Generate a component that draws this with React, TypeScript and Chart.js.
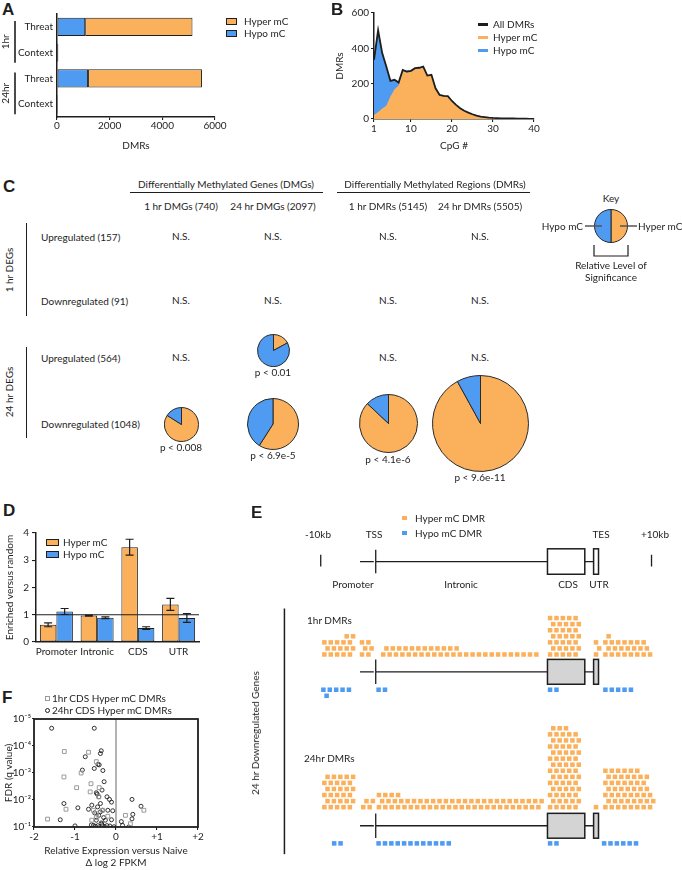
import React, { useEffect, useRef } from 'react';
import { Chart, registerables } from 'chart.js';

Chart.register(...registerables);

const FONT = 'Lato, "Open Sans", "DejaVu Sans", sans-serif';
const LETTER_FONT = '"Liberation Sans", Arial, sans-serif';
const INK = '#1e1e1e';
const ORANGE = '#FBB15C';
const BLUE = '#4E9BF1';
const CDS_GREY = '#d4d4d4';

Chart.defaults.font.family = FONT;
Chart.defaults.font.size = 10;
Chart.defaults.color = INK;

/* ---------------- Panel A data ---------------- */
const A_CATEGORIES = ['Threat', 'Context', 'Threat', 'Context'];
const A_GROUPS = ['1hr', '24hr'];
const A_HYPO = [1070, 12, 1180, 5];
const A_HYPER = [4075, 38, 4325, 12];
const A_TICKS = [0, 2000, 4000, 6000];

/* ---------------- Panel B data ---------------- */
const B_CPG = [1, 2, 3, 4, 5, 6, 7, 8, 9, 10, 11, 12, 13, 14, 15, 16, 17, 18, 19, 20, 21, 22, 23, 24, 25, 26, 27, 28, 29, 30, 31, 32, 33, 34, 35, 36, 37, 38, 39, 40];
const B_TOTAL = [335, 502, 373, 297, 216, 222, 206, 278, 269, 273, 288, 290, 297, 246, 250, 174, 136, 131, 129, 102, 80, 61, 47, 36, 27, 19, 13, 11, 8, 6, 5, 4, 4, 3, 3, 2, 2, 2, 1, 1];
const B_HYPER = [22, 40, 60, 75, 127, 169, 190, 270, 263, 268, 283, 285, 292, 242, 246, 171, 133, 128, 126, 100, 78, 59, 45, 34, 25, 18, 12, 10, 7, 5, 4, 3, 3, 2, 2, 2, 1, 1, 1, 1];
const B_X_TICKS = [1, 10, 20, 30, 40];
const B_Y_TICKS = [0, 200, 400, 600];

/* ---------------- Panel C data ---------------- */
const C_GROUP_HEADERS = ['Differentially Methylated Genes (DMGs)', 'Differentially Methylated Regions (DMRs)'];
const C_COLUMNS = ['1 hr DMGs (740)', '24 hr DMGs (2097)', '1 hr DMRs (5145)', '24 hr DMRs (5505)'];
const C_ROWS = ['Upregulated (157)', 'Downregulated (91)', 'Upregulated (564)', 'Downregulated (1048)'];
const C_ROW_GROUPS = ['1 hr DEGs', '24 hr DEGs'];
const C_PIE_ROW = [2, 3, 3, 3, 3];
const C_PIE_COL = [1, 0, 1, 2, 3];
const C_PIE_HYPER = [17, 84, 59, 87, 92];
const C_PIE_HYPO = [83, 16, 41, 13, 8];
const C_PIE_P = ['p < 0.01', 'p < 0.008', 'p < 6.9e-5', 'p < 4.1e-6', 'p < 9.6e-11'];
const C_KEY_SHARES = [50, 50];

/* ---------------- Panel D data ---------------- */
const D_REGIONS = ['Promoter', 'Intronic', 'CDS', 'UTR'];
const D_HYPER = [0.63, 0.97, 3.48, 1.38];
const D_HYPER_ERR = [0.07, 0.02, 0.29, 0.22];
const D_HYPO = [1.12, 0.89, 0.51, 0.88];
const D_HYPO_ERR = [0.11, 0.03, 0.05, 0.16];
const D_Y_TICKS = [0, 1, 2, 3, 4];

/* ---------------- Panel E data (DMR counts per bin, stacked) ---------------- */
const E_1H_HYPER_UP = [3, 3, 3, 4, 4];
const E_1H_HYPER_TSS = [3, 3];
const E_1H_HYPER_INTRON = [2, 2, 2, 2, 2, 2, 2, 2, 2, 2, 2, 2, 1, 1, 1, 1, 1, 1, 1, 1, 1, 1, 1, 1, 1];
const E_1H_HYPER_CDS = [7, 7, 7, 7, 7];
const E_1H_HYPER_UTR = [3];
const E_1H_HYPER_DOWN = [4, 3, 3, 3, 3, 3, 3, 1];
const E_1H_HYPO_UP = [2, 1, 1, 1, 1];
const E_1H_HYPO_INTRON = [1, 1];
const E_1H_HYPO_CDS = [1, 1];
const E_1H_HYPO_DOWN = [1, 1, 1, 1, 1];

const E_24H_HYPER_UP = [6, 6, 6, 6, 6];
const E_24H_HYPER_TSS = [2, 2];
const E_24H_HYPER_INTRON = [3, 3, 3, 3, 2, 2, 2, 2, 2, 2, 2, 2, 2, 2, 2, 2, 2, 2, 2, 2, 2, 2, 2, 2, 2, 2];
const E_24H_HYPER_CDS = [14, 14, 14, 13, 13];
const E_24H_HYPER_UTR = [1];
const E_24H_HYPER_DOWN = [7, 7, 7, 7, 7, 7, 6, 3];
const E_24H_HYPO_UP = [1, 1];
const E_24H_HYPO_INTRON = [1, 1, 1, 1, 1, 1, 1, 1, 1, 1, 1, 1];
const E_24H_HYPO_CDS = [1, 1];
const E_24H_HYPO_DOWN = [1, 1, 1, 1, 1, 1];

/* ---------------- Panel F data ---------------- */
const F_1H_FC = [-1.26, -0.67, -0.48, -1.27, -0.85, -0.96, -0.61, -0.63, -0.41, -1.22, -1.67, 0.23, 0.68, 0.35, -0.48, -0.33, -0.42, -0.20, -0.55, -0.47, -0.38, -0.59];
const F_1H_Q = [1.6e-4, 1.7e-4, 3.8e-4, 1.4e-3, 1.0e-3, 3.5e-3, 2.5e-3, 5.0e-3, 3.5e-3, 2.2e-2, 5.1e-2, 3.7e-2, 2.4e-2, 7.6e-2, 4.5e-2, 2.4e-2, 7.6e-3, 4.0e-2, 2.4e-2, 3.2e-2, 8.7e-2, 5.6e-2];
const F_24H_FC = [-1.57, -0.53, -0.38, -0.36, -0.75, -0.44, -0.41, -0.82, -0.53, -0.32, -0.29, -0.34, -0.48, -0.46, -0.42, -0.22, -0.16, -0.11, -1.27, -0.93, -0.67, -0.59, -0.38, -0.33, -0.52, -0.20, -0.08, 0.39, 0.61, 0.41, 0.39, -1.36, -1.00, -0.42, -0.30, -0.48, -0.36, -0.26, -0.11, -0.55, -0.44, -0.33, -0.22, 0.13, 0.16, 0.31, -0.38, -0.45, -0.50, -0.28, -0.15, -0.05, -0.60, -0.35];
const F_24H_Q = [2.2e-5, 2.2e-5, 1.9e-4, 1.5e-4, 2.5e-4, 4.8e-4, 5.0e-4, 7.8e-4, 6.8e-4, 8.1e-4, 2.1e-3, 4.3e-3, 5.4e-3, 6.0e-3, 7.6e-3, 7.6e-3, 9.5e-3, 1.2e-2, 1.35e-2, 1.95e-2, 2.2e-2, 1.55e-2, 1.35e-2, 2.4e-2, 3.0e-2, 2.4e-2, 2.5e-2, 9.5e-3, 1.7e-2, 3.4e-2, 5.0e-2, 5.4e-2, 9.1e-2, 3.7e-2, 4.5e-2, 5.6e-2, 7.1e-2, 5.6e-2, 5.4e-2, 8.7e-2, 8.9e-2, 8.7e-2, 8.9e-2, 6.3e-2, 8.7e-2, 1.0e-1, 2.75e-2, 1.8e-2, 9.5e-2, 9.7e-2, 9.2e-2, 9.8e-2, 8.3e-2, 7.8e-2];
const F_X_TICKS = [-2, -1, 0, 1, 2];
const F_Y_TICKS = [1e-5, 1e-4, 1e-3, 1e-2, 1e-1];

/* ---------------- layout (positions / sizes only) ---------------- */
const C_COL_X = [181, 273, 388, 480];
const C_ROW_Y = [237, 301, 358, 424];
const C_PIE_DIAM = [31, 33, 50, 57, 95];
const C_PIE_CY = [350, 424, 423.5, 423.5, 423];

const E_ROW = 6.2;
const E_X_MIN = -11.03;
const E_X_MAX = 55.43;
const E_GENE = { upTick: -0.57, promoter: 5.58, tss: 8.05, cdsStart: 34.97, cdsEnd: 40.82, utrStart: 42.2, utrEnd: 42.97, downTick: 51.28 };
const E_TRACKS = [
  {
    gene: 181.7, hyperBase: 164, hypoBase: 200,
    hyper: [[E_1H_HYPER_UP, 0], [E_1H_HYPER_TSS, 5.9], [E_1H_HYPER_INTRON, 9.23], [E_1H_HYPER_CDS, 35.38], [E_1H_HYPER_UTR, 42.58], [E_1H_HYPER_DOWN, 44.05]],
    hypo: [[E_1H_HYPO_UP, -0.15], [E_1H_HYPO_INTRON, 8.5], [E_1H_HYPO_CDS, 35.38], [E_1H_HYPO_DOWN, 44.05]],
  },
  {
    gene: 339, hyperBase: 320, hypoBase: 357,
    hyper: [[E_24H_HYPER_UP, 0], [E_24H_HYPER_TSS, 6.1], [E_24H_HYPER_INTRON, 8.55], [E_24H_HYPER_CDS, 35.38], [E_24H_HYPER_UTR, 42.58], [E_24H_HYPER_DOWN, 44.05]],
    hypo: [[E_24H_HYPO_UP, 1.54], [E_24H_HYPO_INTRON, 8.5], [E_24H_HYPO_CDS, 35.38], [E_24H_HYPO_DOWN, 43.85]],
  },
];

/* ---------------- helpers ---------------- */
const SUP: Record<string, string> = { '-': '\u207B', '0': '\u2070', '1': '\u00B9', '2': '\u00B2', '3': '\u00B3', '4': '\u2074', '5': '\u2075', '6': '\u2076', '7': '\u2077', '8': '\u2078', '9': '\u2079' };
const pow10Label = (v: number) => '10' + String(Math.round(Math.log10(v))).split('').map((c) => SUP[c] || c).join('');

const fixedTicks = (vals: number[]) => (s: any) => { s.ticks = vals.map((value) => ({ value })); };
const fitY = (w: number) => (s: any) => { s.width = w; s.paddingTop = 0; s.paddingBottom = 0; };
const fitX = (h: number) => (s: any) => { s.height = h; s.paddingLeft = 0; s.paddingRight = 0; };
const axisGrid = (len: number) => ({ display: true, drawOnChartArea: false, drawTicks: true, tickLength: len, color: INK, lineWidth: 1.1 });
const noGrid = { display: false, drawTicks: false, tickLength: 0 };
const axisBorder = { display: true, color: INK, width: 1.5 };
const quiet = { legend: { display: false }, tooltip: { enabled: false } };

function stackPoints(segments: any[], base: number, dir: number) {
  const pts: { x: number; y: number }[] = [];
  segments.forEach(([heights, start]) => {
    heights.forEach((h: number, i: number) => {
      for (let r = 0; r < h; r++) pts.push({ x: start + i + (r % 2 ? 0.5 : 0), y: base + dir * r * E_ROW });
    });
  });
  return pts;
}

/* ---------------- plugins ---------------- */
const aGroupPlugin = {
  id: 'aGroups',
  afterDraw(chart: any, _a: any, opts: any) {
    const { ctx } = chart;
    const y = chart.scales.y;
    opts.groups.forEach((g: string, gi: number) => {
      const top = y.getPixelForValue(gi * 2) - 6;
      const bottom = y.getPixelForValue(gi * 2 + 1) + 10;
      ctx.save();
      ctx.strokeStyle = INK;
      ctx.lineWidth = 1.6;
      ctx.beginPath();
      ctx.moveTo(15, top);
      ctx.lineTo(15, bottom);
      ctx.stroke();
      ctx.translate(6, (top + bottom) / 2);
      ctx.rotate(-Math.PI / 2);
      ctx.fillStyle = INK;
      ctx.font = `10px ${FONT}`;
      ctx.textAlign = 'center';
      ctx.textBaseline = 'middle';
      ctx.fillText(g, 0, 0);
      ctx.restore();
    });
  },
};

const errorBarPlugin = {
  id: 'errorBars',
  afterDatasetsDraw(chart: any, _a: any, opts: any) {
    const { ctx } = chart;
    const y = chart.scales.y;
    ctx.save();
    ctx.strokeStyle = INK;
    ctx.lineWidth = 1.2;
    chart.data.datasets.forEach((ds: any, di: number) => {
      const meta = chart.getDatasetMeta(di);
      meta.data.forEach((bar: any, i: number) => {
        const v = ds.data[i];
        const e = opts.errors[di][i];
        const yt = y.getPixelForValue(v + e);
        const yb = y.getPixelForValue(v - e);
        ctx.beginPath();
        ctx.moveTo(bar.x, yt); ctx.lineTo(bar.x, yb);
        ctx.moveTo(bar.x - 4, yt); ctx.lineTo(bar.x + 4, yt);
        ctx.moveTo(bar.x - 4, yb); ctx.lineTo(bar.x + 4, yb);
        ctx.stroke();
      });
    });
    ctx.restore();
  },
};

const refLinePlugin = {
  id: 'refLine',
  afterDatasetsDraw(chart: any, _a: any, opts: any) {
    const { ctx, chartArea: a } = chart;
    const py = chart.scales.y.getPixelForValue(opts.value);
    ctx.save();
    ctx.strokeStyle = INK;
    ctx.lineWidth = 1.2;
    ctx.beginPath();
    ctx.moveTo(a.left, py);
    ctx.lineTo(a.right, py);
    ctx.stroke();
    ctx.restore();
  },
};

const framePlugin = {
  id: 'frame',
  beforeDatasetsDraw(chart: any, _a: any, opts: any) {
    const { ctx, chartArea: a } = chart;
    const zx = chart.scales.x.getPixelForValue(opts.zero);
    ctx.save();
    ctx.strokeStyle = '#666';
    ctx.lineWidth = 1;
    ctx.beginPath();
    ctx.moveTo(zx, a.top);
    ctx.lineTo(zx, a.bottom);
    ctx.stroke();
    ctx.restore();
  },
  afterDatasetsDraw(chart: any) {
    const { ctx, chartArea: a } = chart;
    ctx.save();
    ctx.strokeStyle = INK;
    ctx.lineWidth = 1.8;
    ctx.strokeRect(a.left, a.top, a.right - a.left, a.bottom - a.top);
    ctx.restore();
  },
};

const keyPlugin = {
  id: 'keyMarks',
  afterDraw(chart: any) {
    const { ctx, chartArea: a } = chart;
    const cx = (a.left + a.right) / 2;
    const cy = (a.top + a.bottom) / 2;
    ctx.save();
    ctx.strokeStyle = '#555';
    ctx.lineWidth = 1.5;
    ctx.beginPath();
    ctx.moveTo(a.left - 9, cy); ctx.lineTo(cx - 9, cy);
    ctx.moveTo(cx + 9, cy); ctx.lineTo(a.right + 9, cy);
    ctx.stroke();
    ctx.strokeStyle = INK;
    ctx.lineWidth = 1.2;
    ctx.beginPath();
    ctx.moveTo(a.left, a.bottom + 2); ctx.lineTo(a.left, a.bottom + 13);
    ctx.lineTo(a.right, a.bottom + 13); ctx.lineTo(a.right, a.bottom + 2);
    ctx.stroke();
    ctx.restore();
  },
};

const genePlugin = {
  id: 'geneModel',
  beforeDatasetsDraw(chart: any, _a: any, opts: any) {
    const { ctx } = chart;
    const X = (v: number) => chart.scales.x.getPixelForValue(v);
    const Y = (v: number) => chart.scales.y.getPixelForValue(v);
    const g = opts.gene;
    ctx.save();
    ctx.strokeStyle = INK;
    opts.models.forEach((m: any) => {
      const c = m.center;
      ctx.lineWidth = 1.3;
      ctx.beginPath();
      ctx.moveTo(X(g.promoter), Y(c)); ctx.lineTo(X(g.tss - 0.3), Y(c));
      ctx.moveTo(X(g.tss), Y(c)); ctx.lineTo(X(g.cdsStart), Y(c));
      ctx.moveTo(X(g.cdsEnd), Y(c)); ctx.lineTo(X(g.utrStart), Y(c));
      ctx.moveTo(X(g.tss), Y(c - m.tssHalf)); ctx.lineTo(X(g.tss), Y(c + m.tssHalf));
      if (m.ends) {
        ctx.moveTo(X(g.upTick), Y(c - 7)); ctx.lineTo(X(g.upTick), Y(c + 5));
        ctx.moveTo(X(g.downTick), Y(c - 7)); ctx.lineTo(X(g.downTick), Y(c + 5));
      }
      ctx.stroke();
      ctx.fillStyle = m.fill;
      ctx.lineWidth = 1.5;
      [[g.cdsStart, g.cdsEnd], [g.utrStart, g.utrEnd]].forEach(([s, e]) => {
        const x0 = X(s), x1 = X(e), y0 = Y(c - m.boxHalf), y1 = Y(c + m.boxHalf);
        ctx.fillRect(x0, y0, x1 - x0, y1 - y0);
        ctx.strokeRect(x0, y0, x1 - x0, y1 - y0);
      });
    });
    const b = opts.bracket;
    ctx.lineWidth = 1.5;
    ctx.beginPath();
    ctx.moveTo(X(b.x), Y(b.from));
    ctx.lineTo(X(b.x), Y(b.to));
    ctx.stroke();
    ctx.restore();
  },
};

/* ---------------- chart configs ---------------- */
const makeA = () => ({
  type: 'bar',
  data: {
    labels: A_CATEGORIES,
    datasets: [
      { label: 'Hypo mC', data: A_HYPO, backgroundColor: BLUE, borderColor: INK, borderWidth: 1, borderSkipped: false, categoryPercentage: 1, barPercentage: 0.7 },
      { label: 'Hyper mC', data: A_HYPER, backgroundColor: ORANGE, borderColor: INK, borderWidth: 1, borderSkipped: false, categoryPercentage: 1, barPercentage: 0.7 },
    ],
  },
  options: {
    indexAxis: 'y', animation: false, responsive: false, events: [],
    layout: { padding: { top: 14, right: 17, bottom: 0, left: 0 } },
    plugins: { ...quiet, aGroups: { groups: A_GROUPS } },
    scales: {
      x: {
        type: 'linear', stacked: true, min: 0, max: 6000,
        afterBuildTicks: fixedTicks(A_TICKS),
        ticks: { callback: (v: number) => String(v), padding: 0, maxRotation: 0, color: INK },
        grid: axisGrid(3), border: axisBorder,
        title: { display: true, text: 'DMRs', color: INK, padding: { top: 2, bottom: 4 } },
        afterFit: fitX(39),
      },
      y: {
        type: 'category', stacked: true,
        grid: noGrid, border: axisBorder,
        ticks: { padding: 4, autoSkip: false, color: INK },
        afterFit: fitY(57),
      },
    },
  },
  plugins: [aGroupPlugin],
});

const xy = (xs: number[], ys: number[]) => xs.map((x, i) => ({ x, y: ys[i] }));

const makeB = () => ({
  type: 'line',
  data: {
    datasets: [
      { label: 'All DMRs', data: xy(B_CPG, B_TOTAL), borderColor: INK, borderWidth: 1.8, fill: false, pointRadius: 0, tension: 0 },
      { label: 'Hyper mC', data: xy(B_CPG, B_HYPER), borderColor: 'rgba(0,0,0,0)', borderWidth: 0, backgroundColor: ORANGE, fill: 'origin', pointRadius: 0, tension: 0 },
      { label: 'Hypo mC', data: xy(B_CPG, B_TOTAL), borderColor: 'rgba(0,0,0,0)', borderWidth: 0, backgroundColor: BLUE, fill: 'origin', pointRadius: 0, tension: 0 },
    ],
  },
  options: {
    animation: false, responsive: false, events: [],
    layout: { padding: { top: 13, right: 8, bottom: 0, left: 0 } },
    plugins: quiet,
    scales: {
      x: {
        type: 'linear', min: 1, max: 40,
        afterBuildTicks: fixedTicks(B_X_TICKS),
        ticks: { callback: (v: number) => String(v), padding: 1, maxRotation: 0, color: INK },
        grid: axisGrid(3), border: axisBorder,
        title: { display: true, text: 'CpG #', color: INK, padding: { top: 2, bottom: 4 } },
        afterFit: fitX(37),
      },
      y: {
        type: 'linear', min: 0, max: 600,
        afterBuildTicks: fixedTicks(B_Y_TICKS),
        ticks: { callback: (v: number) => String(v), padding: 2, color: INK },
        grid: axisGrid(3), border: axisBorder,
        title: { display: true, text: 'DMRs', color: INK, padding: { top: 4, bottom: 4 } },
        afterFit: fitY(44),
      },
    },
  },
});

const makeD = () => ({
  type: 'bar',
  data: {
    labels: D_REGIONS,
    datasets: [
      { label: 'Hyper mC', data: D_HYPER, backgroundColor: ORANGE, borderColor: INK, borderWidth: 1, borderSkipped: false, categoryPercentage: 0.81, barPercentage: 1 },
      { label: 'Hypo mC', data: D_HYPO, backgroundColor: BLUE, borderColor: INK, borderWidth: 1, borderSkipped: false, categoryPercentage: 0.81, barPercentage: 1 },
    ],
  },
  options: {
    animation: false, responsive: false, events: [],
    layout: { padding: { top: 33, right: 6, bottom: 0, left: 0 } },
    plugins: { ...quiet, errorBars: { errors: [D_HYPER_ERR, D_HYPO_ERR] }, refLine: { value: 1 } },
    scales: {
      x: {
        type: 'category',
        grid: noGrid, border: axisBorder,
        ticks: { padding: 4, maxRotation: 0, autoSkip: false, color: INK },
        afterFit: fitX(18),
      },
      y: {
        type: 'linear', min: 0, max: 4,
        afterBuildTicks: fixedTicks(D_Y_TICKS),
        ticks: { padding: 3, color: INK },
        grid: axisGrid(4), border: axisBorder,
        title: { display: true, text: 'Enriched versus random', color: INK, padding: { top: 4, bottom: 4 } },
        afterFit: fitY(36),
      },
    },
  },
  plugins: [errorBarPlugin, refLinePlugin],
});

const makeF = () => ({
  type: 'scatter',
  data: {
    datasets: [
      { label: '1hr CDS Hyper mC DMRs', data: xy(F_1H_FC, F_1H_Q), pointStyle: 'rect', pointRadius: 2.7, pointBorderColor: '#9a9a9a', pointBackgroundColor: 'rgba(255,255,255,0)', pointBorderWidth: 1 },
      { label: '24hr CDS Hyper mC DMRs', data: xy(F_24H_FC, F_24H_Q), pointStyle: 'circle', pointRadius: 2, pointBorderColor: INK, pointBackgroundColor: 'rgba(255,255,255,0)', pointBorderWidth: 0.9 },
    ],
  },
  options: {
    animation: false, responsive: false, events: [],
    layout: { padding: { top: 14, right: 7, bottom: 0, left: 0 } },
    plugins: { ...quiet, frame: { zero: 0 } },
    scales: {
      x: {
        type: 'linear', min: -2, max: 2,
        afterBuildTicks: fixedTicks(F_X_TICKS),
        ticks: { callback: (v: number) => (v > 0 ? `+${v}` : `${v}`), padding: 1, maxRotation: 0, color: INK },
        grid: axisGrid(3), border: { display: false },
        title: { display: true, text: ['Relative Expression versus Naive', '\u0394 log 2 FPKM'], color: INK, padding: { top: 2, bottom: 1 } },
        afterFit: fitX(43),
      },
      y: {
        type: 'logarithmic', min: 1e-5, max: 1e-1, reverse: true,
        afterBuildTicks: fixedTicks(F_Y_TICKS),
        ticks: { callback: (v: number) => pow10Label(v), padding: 1, color: INK },
        grid: axisGrid(2), border: { display: false },
        title: { display: true, text: 'FDR (q value)', color: INK, padding: { top: 3, bottom: 3 } },
        afterFit: fitY(34),
      },
    },
  },
  plugins: [framePlugin],
});

const makeE = () => ({
  type: 'scatter',
  data: {
    datasets: [
      { label: 'Hyper mC DMR', data: E_TRACKS.flatMap((t) => stackPoints(t.hyper, t.hyperBase, -1)), pointStyle: 'rect', pointRadius: 3.2, pointBackgroundColor: ORANGE, pointBorderWidth: 0 },
      { label: 'Hypo mC DMR', data: E_TRACKS.flatMap((t) => stackPoints(t.hypo, t.hypoBase, 1)), pointStyle: 'rect', pointRadius: 3.2, pointBackgroundColor: BLUE, pointBorderWidth: 0 },
    ],
  },
  options: {
    animation: false, responsive: false, events: [],
    layout: { padding: 0 },
    plugins: {
      ...quiet,
      geneModel: {
        gene: E_GENE,
        models: [
          { center: 69, tssHalf: 12, boxHalf: 13, fill: '#ffffff', ends: true },
          { center: E_TRACKS[0].gene, tssHalf: 12.5, boxHalf: 12.7, fill: CDS_GREY, ends: false },
          { center: E_TRACKS[1].gene, tssHalf: 12.5, boxHalf: 12.7, fill: CDS_GREY, ends: false },
        ],
        bracket: { x: -6.26, from: 117, to: 368 },
      },
    },
    scales: {
      x: { type: 'linear', display: false, min: E_X_MIN, max: E_X_MAX },
      y: { type: 'linear', display: false, min: 0, max: 375, reverse: true },
    },
  },
  plugins: [genePlugin],
});

const makePie = (hyper: number, hypo: number, padding: any, extra: any[] = []) => () => ({
  type: 'pie',
  data: {
    labels: ['Hyper mC', 'Hypo mC'],
    datasets: [{ data: [hyper, hypo], backgroundColor: [ORANGE, BLUE], borderColor: '#2a2a2a', borderWidth: 1, hoverOffset: 0, offset: 0 }],
  },
  options: { animation: false, responsive: false, events: [], layout: { padding }, plugins: quiet },
  plugins: extra,
});

/* ---------------- components ---------------- */
function ChartCanvas({ left, top, width, height, make }: any) {
  const ref = useRef<HTMLCanvasElement>(null);
  useEffect(() => {
    const chart = new Chart(ref.current as HTMLCanvasElement, make());
    return () => chart.destroy();
  }, []);
  return <canvas ref={ref} width={width} height={height} style={{ position: 'absolute', left, top, width, height, display: 'block' }} />;
}

function T({ x, y, children, anchor = 'middle', size = 10, weight = 400, rotate = 0, family = FONT }: any) {
  const tx = anchor === 'start' ? '0' : anchor === 'end' ? '-100%' : '-50%';
  return (
    <div style={{ position: 'absolute', left: x, top: y, transform: `translate(${tx}, -50%)${rotate ? ` rotate(${rotate}deg)` : ''}`, fontFamily: family, fontSize: size, fontWeight: weight, color: INK, whiteSpace: 'nowrap', lineHeight: 1 }}>
      {children}
    </div>
  );
}

function Rule({ x, y, w, h, color = INK }: any) {
  return <div style={{ position: 'absolute', left: x, top: y, width: w, height: h, background: color }} />;
}

function Swatch({ x, y, w, h, color, border = true }: any) {
  return <div style={{ position: 'absolute', left: x, top: y, width: w, height: h, background: color, boxSizing: 'border-box', border: border ? `1px solid ${INK}` : 'none' }} />;
}

const Letter = ({ x, y, ch }: any) => <T x={x} y={y} anchor="start" size={17} weight={700} family={LETTER_FONT}>{ch}</T>;

export default function App() {
  const pieCells = C_PIE_ROW.map((r, i) => `${r}-${C_PIE_COL[i]}`);
  return (
    <div style={{ position: 'absolute', left: 0, top: 0, width: 682, height: 870, background: '#fff', overflow: 'hidden', fontFamily: FONT, color: INK }}>
      {/* ---------- A ---------- */}
      <Letter x={2} y={9} ch="A" />
      <ChartCanvas left={0} top={0} width={232} height={156} make={makeA} />
      <Swatch x={226} y={17.5} w={11} h={7} color={ORANGE} />
      <T x={244} y={21} anchor="start">Hyper mC</T>
      <Swatch x={226} y={29.5} w={11} h={7} color={BLUE} />
      <T x={244} y={33} anchor="start">Hypo mC</T>

      {/* ---------- B ---------- */}
      <Letter x={331} y={9} ch="B" />
      <ChartCanvas left={330} top={0} width={212} height={156} make={makeB} />
      <Rule x={478} y={23} w={10} h={2.5} color={INK} />
      <T x={493} y={24} anchor="start">All DMRs</T>
      <Rule x={478} y={36} w={10} h={2.5} color={ORANGE} />
      <T x={493} y={37} anchor="start">Hyper mC</T>
      <Rule x={478} y={49} w={10} h={2.5} color={BLUE} />
      <T x={493} y={50} anchor="start">Hypo mC</T>

      {/* ---------- C ---------- */}
      <Letter x={3} y={186} ch="C" />
      <T x={226} y={184}>{C_GROUP_HEADERS[0]}</T>
      <Rule x={130} y={191.5} w={193} h={1.5} />
      <T x={435} y={184}>{C_GROUP_HEADERS[1]}</T>
      <Rule x={337} y={191.5} w={193} h={1.5} />
      {C_COLUMNS.map((c, i) => <T key={c} x={C_COL_X[i]} y={206}>{c}</T>)}
      {C_ROWS.map((r, i) => <T key={r + i} x={41} y={C_ROW_Y[i]} anchor="start">{r}</T>)}
      <T x={9} y={270} rotate={-90}>{C_ROW_GROUPS[0]}</T>
      <Rule x={25.5} y={223} w={1.5} h={93} />
      <T x={9} y={392} rotate={-90}>{C_ROW_GROUPS[1]}</T>
      <Rule x={25.5} y={347} w={1.5} h={91} />
      {C_ROWS.map((_, r) => C_COL_X.map((cx, c) => (pieCells.includes(`${r}-${c}`) ? null : <T key={`ns${r}-${c}`} x={cx} y={C_ROW_Y[r] - 1}>N.S.</T>)))}
      {C_PIE_HYPER.map((h, i) => {
        const d = C_PIE_DIAM[i];
        const s = d + 2;
        const cx = C_COL_X[C_PIE_COL[i]];
        const cy = C_PIE_CY[i];
        return (
          <React.Fragment key={`pie${i}`}>
            <ChartCanvas left={cx - s / 2} top={cy - s / 2} width={s} height={s} make={makePie(h, C_PIE_HYPO[i], 0)} />
            <T x={cx} y={cy + d / 2 + 6.5}>{C_PIE_P[i]}</T>
          </React.Fragment>
        );
      })}
      <T x={611} y={198}>Key</T>
      <ChartCanvas left={578} top={200} width={66} height={62} make={makePie(C_KEY_SHARES[0], C_KEY_SHARES[1], { left: 16, right: 16, top: 9, bottom: 19 }, [keyPlugin])} />
      <T x={583} y={226} anchor="end">Hypo mC</T>
      <T x={638} y={226} anchor="start">Hyper mC</T>
      <T x={611} y={265}>Relative Level of</T>
      <T x={611} y={277}>Significance</T>

      {/* ---------- D ---------- */}
      <Letter x={3} y={510} ch="D" />
      <ChartCanvas left={0} top={500} width={205} height={160} make={makeD} />
      <Swatch x={46} y={538.5} w={13} h={7} color={ORANGE} />
      <T x={63} y={542} anchor="start">Hyper mC</T>
      <Swatch x={46} y={550.5} w={13} h={7} color={BLUE} />
      <T x={63} y={554} anchor="start">Hypo mC</T>

      {/* ---------- E ---------- */}
      <Letter x={251} y={512} ch="E" />
      <ChartCanvas left={250} top={490} width={432} height={375} make={makeE} />
      <Swatch x={402} y={515.5} w={4.5} h={4.5} color={ORANGE} border={false} />
      <T x={415} y={518} anchor="start">Hyper mC DMR</T>
      <Swatch x={402} y={530.5} w={4.5} h={4.5} color={BLUE} border={false} />
      <T x={415} y={533} anchor="start">Hypo mC DMR</T>
      <T x={318} y={534}>-10kb</T>
      <T x={374} y={534}>TSS</T>
      <T x={601} y={534}>TES</T>
      <T x={655} y={534}>+10kb</T>
      <T x={353} y={584}>Promoter</T>
      <T x={461} y={584}>Intronic</T>
      <T x={568} y={584}>CDS</T>
      <T x={599} y={584}>UTR</T>
      <T x={307} y={620} anchor="start">1hr DMRs</T>
      <T x={304} y={758} anchor="start">24hr DMRs</T>
      <T x={255} y={733} rotate={-90}>24 hr Downregulated Genes</T>

      {/* ---------- F ---------- */}
      <Letter x={2} y={697} ch="F" />
      <ChartCanvas left={0} top={705} width={205} height={165} make={makeF} />
      <div style={{ position: 'absolute', left: 44.5, top: 695.5, width: 5, height: 5, boxSizing: 'border-box', border: '1px solid #9a9a9a' }} />
      <T x={52} y={698} anchor="start">1hr CDS Hyper mC DMRs</T>
      <div style={{ position: 'absolute', left: 44.5, top: 707.5, width: 5, height: 5, boxSizing: 'border-box', border: `1px solid ${INK}`, borderRadius: '50%' }} />
      <T x={52} y={710} anchor="start">24hr CDS Hyper mC DMRs</T>
    </div>
  );
}
